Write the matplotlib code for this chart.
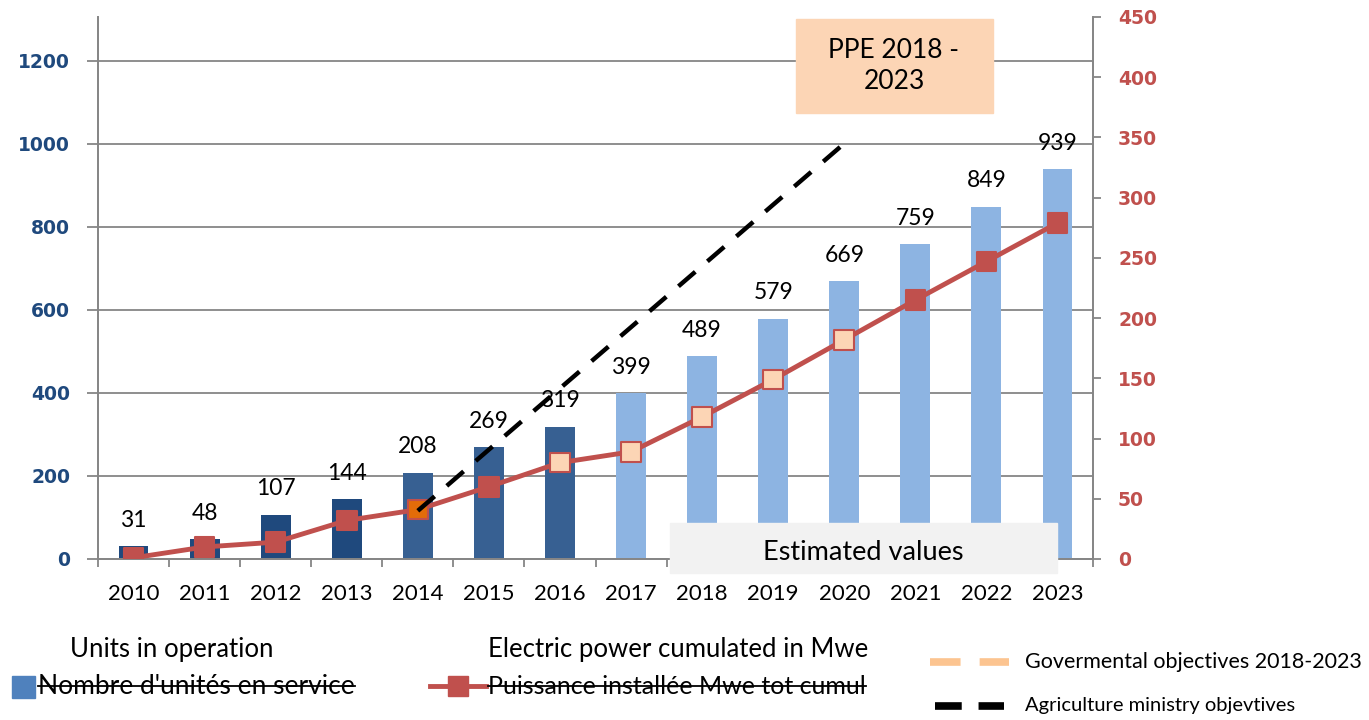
import numpy as np
import matplotlib
matplotlib.use("Agg")
from matplotlib import pyplot as plt
from matplotlib.lines import Line2D
from matplotlib.patches import Rectangle

## data
years = ['2010', '2011', '2012', '2013', '2014', '2015', '2016',
         '2017', '2018', '2019', '2020', '2021', '2022', '2023']
units = [31, 48, 107, 144, 208, 269, 319, 399, 489, 579, 669, 759, 849, 939]
power = [1, 10, 14, 32, 41, 60, 80, 89, 118, 149, 182, 215, 247, 279]
agri_years = ['2014', '2020']
agri_power = [40, 345]

W, H = 1369, 720
plt.rcParams['font.family'] = ['Lato', 'DejaVu Sans']

def fx(x):
    return x / W

def fy(y):
    return 1 - y / H

bar_colors = ['#1F497D'] * 4 + ['#376092'] * 3 + ['#8DB4E2'] * 7
mk_face = ['#C0504D'] * 4 + ['#E36C09'] + ['#C0504D'] + ['#FCD5B5'] * 5 + ['#C0504D'] * 3
grey = '#868686'

fig = plt.figure(figsize=(W / 100, H / 100), dpi=100)
ax = fig.add_axes([fx(98), fy(559), fx(1093) - fx(98), fy(17) - fy(559)])
ax2 = ax.twinx()
ax.set_zorder(1)
ax2.set_zorder(2)
ax.patch.set_visible(False)

x = np.arange(len(years))
ax.bar(x, units, width=0.42, color=bar_colors, zorder=2)
for xi, v in zip(x, units):
    ax.annotate(str(v), (xi, v), xytext=(0, 11), textcoords='offset points',
                ha='center', va='bottom', fontsize=16.5)

ax.set_ylim(0, 1306)
ax.set_yticks(range(0, 1201, 200))
ax.yaxis.grid(True, color=grey, lw=1.3)
ax.set_axisbelow(True)
ax.set_xlim(-0.5, len(years) - 0.5)
ax.set_xticks(x)
ax.set_xticklabels(years, fontsize=16)
ax.set_xticks(np.arange(-0.5, len(years), 1), minor=True)
ax.tick_params(axis='x', which='major', length=0, pad=18)
ax.tick_params(axis='x', which='minor', length=6, color=grey, width=1.3)
ax.tick_params(axis='y', length=8, color=grey, width=1.3, pad=12, labelcolor='#1F497D')
for lab in ax.get_yticklabels():
    lab.set_fontweight('bold')
    lab.set_fontfamily('DejaVu Sans')
    lab.set_fontsize(13.5)

ax2.plot(x, power, color='#C0504D', lw=3.5, zorder=3)
ax2.scatter(x, power, marker='s', s=200, c=mk_face, edgecolors='#C0504D',
            linewidths=1.5, zorder=4)
ax2.plot([years.index(y) for y in agri_years], agri_power, color='black', lw=3.2,
         dashes=(5, 3.6), zorder=5)
ax2.set_ylim(0, 450)
ax2.set_yticks(range(0, 451, 50))
ax2.tick_params(axis='y', length=6, color=grey, width=1.3, pad=12, labelcolor='#C0504D')
for lab in ax2.get_yticklabels():
    lab.set_fontweight('bold')
    lab.set_fontfamily('DejaVu Sans')
    lab.set_fontsize(13.5)

for a in (ax, ax2):
    a.spines['top'].set_visible(False)
    for s in ('left', 'right', 'bottom'):
        a.spines[s].set_color(grey)
        a.spines[s].set_linewidth(1.3)

## annotation boxes
fig.add_artist(Rectangle((fx(796), fy(113)), fx(993 - 796), (113 - 19) / H,
                         transform=fig.transFigure, color='#FCD5B5', zorder=10))
fig.text(fx(894), fy(66), 'PPE 2018 -\n2023', ha='center', va='center',
         fontsize=19, linespacing=1.3, zorder=11)
fig.add_artist(Rectangle((fx(670), fy(573)), fx(1057 - 670), (573 - 523) / H,
                         transform=fig.transFigure, color='#F2F2F2', zorder=10))
fig.text(fx(863), fy(552), 'Estimated values', ha='center', va='center',
         fontsize=19.5, zorder=11)

## legend drawn by hand
fig.text(fx(70), fy(649), 'Units in operation', va='center', fontsize=18.5)
fig.text(fx(488), fy(649), 'Electric power cumulated in Mwe', va='center', fontsize=18.5)
fig.add_artist(Rectangle((fx(12), fy(698)), fx(23), 22 / H,
                         transform=fig.transFigure, color='#4F81BD'))
t1 = fig.text(fx(38), fy(686), "Nombre d'unités en service", va='center', fontsize=19)
fig.add_artist(Line2D([fx(430), fx(486)], [fy(686), fy(686)], color='#C0504D', lw=3.5,
                      transform=fig.transFigure))
fig.add_artist(Line2D([fx(458)], [fy(686)], marker='s', markersize=14, color='#C0504D',
                      transform=fig.transFigure))
t2 = fig.text(fx(488), fy(686), 'Puissance installée Mwe tot cumul', va='center', fontsize=18)
fig.add_artist(Line2D([fx(930), fx(1009)], [fy(662), fy(662)], color='#FCC490', lw=5.5,
                      dashes=(4, 2.5), transform=fig.transFigure))
fig.text(fx(1025), fy(662), 'Govermental objectives 2018-2023', va='center', fontsize=15.5)
fig.add_artist(Line2D([fx(935), fx(1004)], [fy(706), fy(706)], color='black', lw=5.5,
                      dashes=(3.5, 2.2), transform=fig.transFigure))
fig.text(fx(1025), fy(706), 'Agriculture ministry objevtives', va='center', fontsize=14.5)

# strike-through on the original french labels
fig.canvas.draw()
r = fig.canvas.get_renderer()
for t in (t1, t2):
    bb = t.get_window_extent(r).transformed(fig.transFigure.inverted())
    fig.add_artist(Line2D([bb.x0, bb.x1], [fy(686), fy(686)], color='black', lw=1.3,
                          transform=fig.transFigure))

plt.savefig('out.png', dpi=100)
